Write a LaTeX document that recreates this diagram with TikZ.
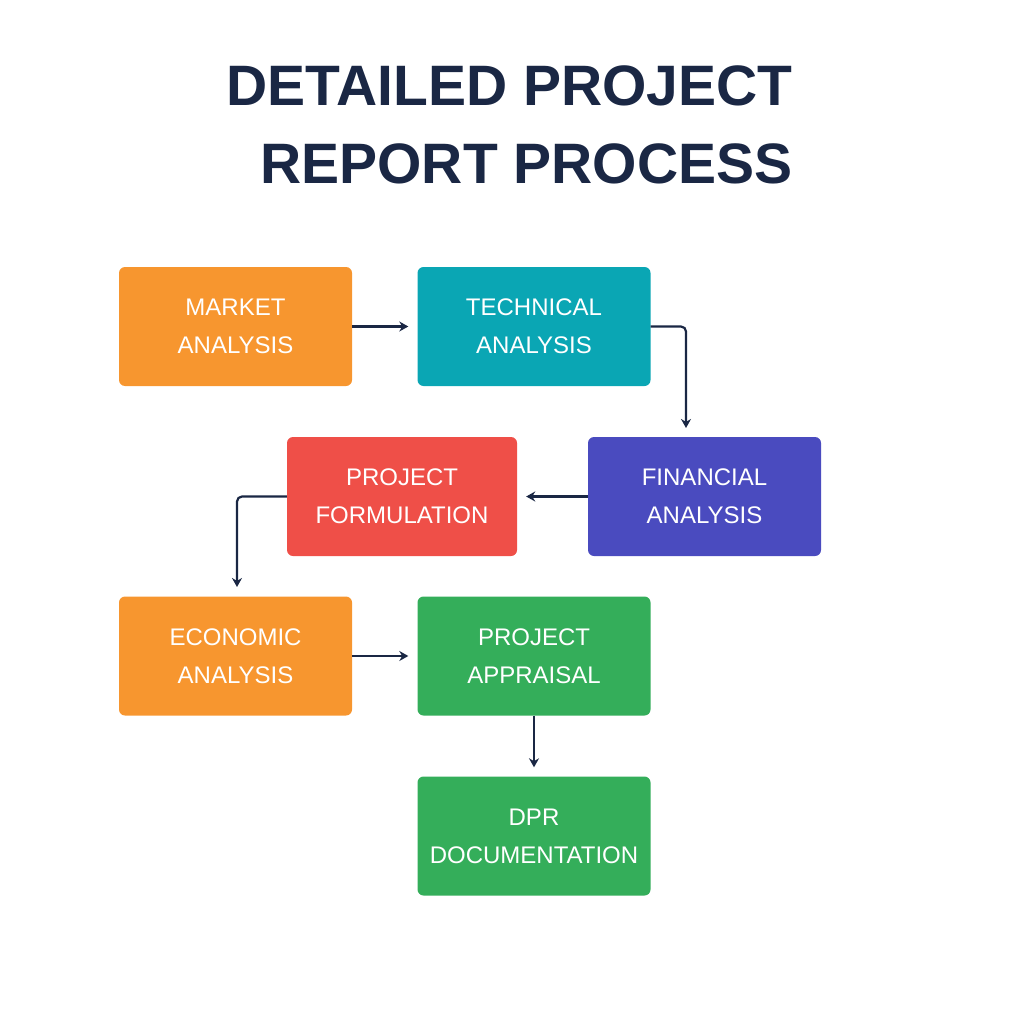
\documentclass[tikz,border=0pt]{standalone}
\usepackage{fontspec}
\setmainfont{Liberation Sans}
\usetikzlibrary{arrows.meta}
\definecolor{navy}{HTML}{1A2744}
\definecolor{corange}{HTML}{F7962F}
\definecolor{cteal}{HTML}{0AA6B4}
\definecolor{cblue}{HTML}{4A4BBF}
\definecolor{cred}{HTML}{EF4F48}
\definecolor{cgreen}{HTML}{34AE5A}
\begin{document}
\begin{tikzpicture}[x=1pt,y=-1pt,
  box/.style={rounded corners=6pt,minimum width=233pt,minimum height=119pt,text=white,align=center,font=\fontsize{24}{38}\selectfont},
  conn/.style={draw=navy,line width=2.2pt,-{Stealth[length=9pt,width=10pt]},shorten >=9pt}]
\useasboundingbox (0,0) rectangle (1024,1024);
\node[text=navy,align=right,font=\fontsize{57}{78}\selectfont\bfseries,anchor=north east] (title) at (796,62) {DETAILED PROJECT\\REPORT PROCESS};
\node[box,fill=corange] (m) at (235.5,326.5) {MARKET\\ANALYSIS};
\node[box,fill=cteal] (t) at (534,326.5) {TECHNICAL\\ANALYSIS};
\node[box,fill=cblue] (f) at (704.5,496.5) {FINANCIAL\\ANALYSIS};
\node[box,fill=cred,minimum width=230pt] (p) at (402,496.5) {PROJECT\\FORMULATION};
\node[box,fill=corange] (e) at (235.5,656) {ECONOMIC\\ANALYSIS};
\node[box,fill=cgreen] (a) at (534,656) {PROJECT\\APPRAISAL};
\node[box,fill=cgreen] (d) at (534,836) {DPR\\DOCUMENTATION};
\coordinate (ftop) at (686,437);
\coordinate (etop) at (237,596);
\draw[conn] (m) -- (t);
\draw[conn,rounded corners=5pt] (t.east) -| (ftop);
\draw[conn] (f) -- (p);
\draw[conn,rounded corners=5pt] (p.west) -| (etop);
\draw[conn] (e) -- (a);
\draw[conn] (a) -- (d);
\end{tikzpicture}
\end{document}
